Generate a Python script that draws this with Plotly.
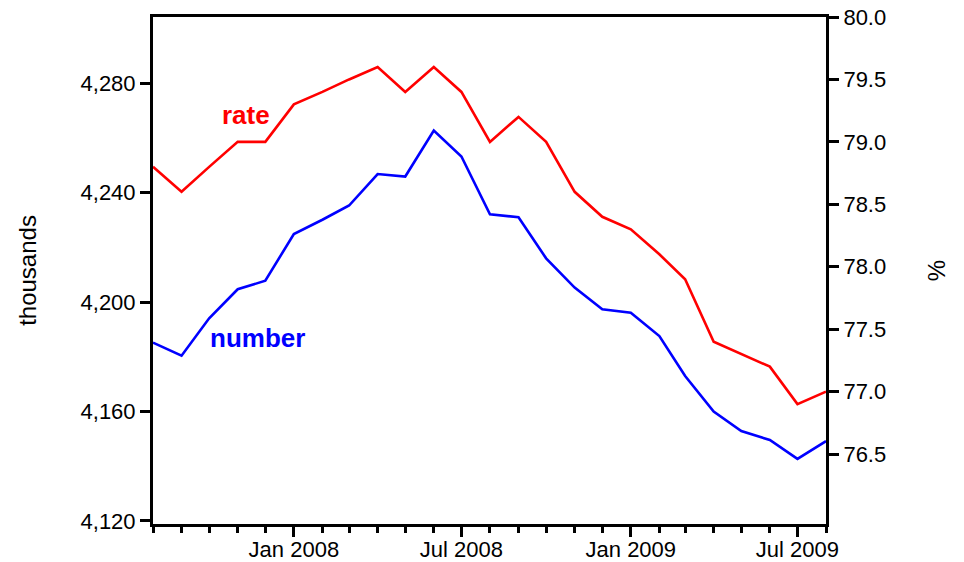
import plotly.graph_objects as go

# monthly observations, Aug 2007 - Aug 2009
months = [
    "2007-08-01", "2007-09-01", "2007-10-01", "2007-11-01", "2007-12-01",
    "2008-01-01", "2008-02-01", "2008-03-01", "2008-04-01", "2008-05-01",
    "2008-06-01", "2008-07-01", "2008-08-01", "2008-09-01", "2008-10-01",
    "2008-11-01", "2008-12-01", "2009-01-01", "2009-02-01", "2009-03-01",
    "2009-04-01", "2009-05-01", "2009-06-01", "2009-07-01", "2009-08-01",
]

# employment, thousands (left axis)
number = [
    4185.2, 4180.4, 4194.1, 4204.7, 4207.8,
    4224.9, 4230.1, 4235.3, 4246.8, 4245.9,
    4262.7, 4253.2, 4232.1, 4231.0, 4216.0,
    4205.3, 4197.4, 4196.1, 4187.6, 4173.0,
    4160.0, 4152.9, 4149.6, 4142.7, 4149.2,
]

# employment rate, % (right axis)
rate = [
    78.8, 78.6, 78.8, 79.0, 79.0,
    79.3, 79.4, 79.5, 79.6, 79.4,
    79.6, 79.4, 79.0, 79.2, 79.0,
    78.6, 78.4, 78.3, 78.1, 77.9,
    77.4, 77.3, 77.2, 76.9, 77.0,
]

left_ticks = [4120, 4160, 4200, 4240, 4280]
right_ticks = [76.5, 77.0, 77.5, 78.0, 78.5, 79.0, 79.5, 80.0]

FONT = "Liberation Sans, Arial, sans-serif"

fig = go.Figure()
fig.add_trace(go.Scatter(
    x=months, y=number, mode="lines", name="number",
    line=dict(color="#0000FF", width=2.6), yaxis="y",
))
fig.add_trace(go.Scatter(
    x=months, y=rate, mode="lines", name="rate",
    line=dict(color="#FF0000", width=2.6), yaxis="y2",
))

axis_common = dict(
    showgrid=False, zeroline=False, showline=True, automargin=False,
    linecolor="black", linewidth=3,
    ticks="outside", tickcolor="black", tickwidth=2.5, ticklen=10,
    tickfont=dict(size=22, color="black", family=FONT),
)

fig.update_layout(
    width=964, height=562,
    margin=dict(l=153, r=138, t=17, b=38),
    paper_bgcolor="white", plot_bgcolor="white",
    showlegend=False,
    font=dict(family=FONT, color="black"),
    xaxis=dict(
        **axis_common,
        mirror=True,
        type="date",
        range=["2007-08-01", "2009-08-01"],
        tick0="2008-01-01", dtick="M6",
        tickformat="%b %Y",
        ticklabelstandoff=-6,
        minor=dict(ticks="outside", dtick="M1", tick0="2007-08-01",
                   ticklen=6, tickwidth=2.5, tickcolor="black"),
    ),
    yaxis=dict(
        **axis_common,
        range=[4118.9, 4304.2],
        tickvals=left_ticks, tickformat=",d",
        title=dict(text="thousands", font=dict(size=24, family=FONT), standoff=38),
    ),
    yaxis2=dict(
        **axis_common,
        overlaying="y", side="right",
        range=[75.94, 80.0],
        tickvals=right_ticks, tickformat=".1f",
        title=dict(text="%", font=dict(size=24, family=FONT), standoff=43),
    ),
    annotations=[
        dict(text="<b>rate</b>", xref="paper", yref="paper", x=0.138, y=0.806,
             xanchor="center", yanchor="middle", showarrow=False,
             font=dict(size=26, color="#FF0000", family=FONT)),
        dict(text="<b>number</b>", xref="paper", yref="paper", x=0.155, y=0.367,
             xanchor="center", yanchor="middle", showarrow=False,
             font=dict(size=26, color="#0000FF", family=FONT)),
    ],
)

fig.write_html(
    "out.html",
    config={"displayModeBar": False},
    post_script="document.body.style.margin='0';",
)
